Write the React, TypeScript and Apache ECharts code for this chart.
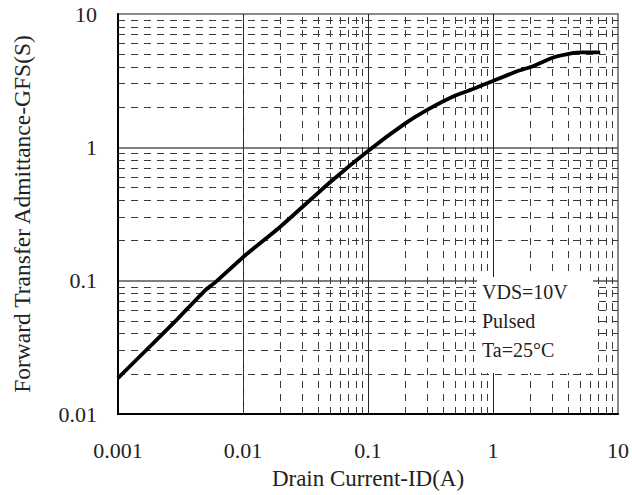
import React, { useEffect, useRef } from "react";
import * as echarts from "echarts";

// Curve: Drain Current ID (A) vs Forward Transfer Admittance GFS (S)
const drainCurrent = [0.001, 0.002, 0.003, 0.005, 0.006, 0.01, 0.02, 0.05, 0.1, 0.2, 0.3, 0.5, 0.7, 1, 1.6, 2, 3, 4.4, 5, 7.2];
const gfs = [0.0186, 0.0354, 0.0517, 0.085, 0.097, 0.15, 0.255, 0.55, 0.94, 1.52, 1.92, 2.45, 2.75, 3.15, 3.75, 4.0, 4.7, 5.1, 5.15, 5.15];

const xTickValues = [0.001, 0.01, 0.1, 1, 10];
const xTickLabels = ["0.001", "0.01", "0.1", "1", "10"];
const yTickValues = [0.01, 0.1, 1, 10];
const yTickLabels = ["0.01", "0.1", "1", "10"];

const minorMultipliers = [2, 3, 4, 5, 6, 7, 8, 9];

const annotationLines = ["VDS=10V", "Pulsed", "Ta=25°C"];

const FONT = "'Liberation Serif', 'DejaVu Serif', serif";

function labelFor(v: number, values: number[], labels: string[]) {
  let best = 0;
  let bestD = Infinity;
  values.forEach((t, i) => {
    const d = Math.abs(Math.log10(v) - Math.log10(t));
    if (d < bestD) {
      bestD = d;
      best = i;
    }
  });
  return bestD < 0.01 ? labels[best] : "";
}

function minorsBetween(ticks: number[]) {
  const out: number[] = [];
  for (let i = 0; i < ticks.length - 1; i++) {
    minorMultipliers.forEach((m) => out.push(ticks[i] * m));
  }
  return out;
}

export default function App() {
  const ref = useRef<HTMLDivElement>(null);

  useEffect(() => {
    if (!ref.current) return;
    const chart = echarts.init(ref.current, null, { renderer: "svg" });

    const xMinor = minorsBetween(xTickValues);
    const yMinor = minorsBetween(yTickValues);

    const minorLineStyle = { color: "#3a3a3a", width: 1, type: [7, 6] as number[] };

    const option: any = {
      animation: false,
      backgroundColor: "#fff",
      grid: {
        left: 118,
        right: 14,
        top: 14,
        bottom: 81,
        show: true,
        borderColor: "#8a8a8a",
        borderWidth: 2,
        backgroundColor: "transparent",
      },
      xAxis: {
        type: "log",
        logBase: 10,
        min: xTickValues[0],
        max: xTickValues[xTickValues.length - 1],
        name: "Drain Current-ID(A)",
        nameLocation: "middle",
        nameGap: 53,
        nameTextStyle: { fontFamily: FONT, fontSize: 23, color: "#222" },
        axisLine: { show: true, lineStyle: { color: "#000", width: 2 } },
        axisTick: { show: false },
        axisLabel: {
          margin: 25,
          fontFamily: FONT,
          fontSize: 22,
          color: "#222",
          formatter: (v: number) => labelFor(v, xTickValues, xTickLabels),
        },
        splitLine: { show: true, showMaxLine: false, showMinLine: false, lineStyle: { color: "#222", width: 1 } },
      },
      yAxis: {
        type: "log",
        logBase: 10,
        min: yTickValues[0],
        max: yTickValues[yTickValues.length - 1],
        name: "Forward Transfer Admittance-GFS(S)",
        nameLocation: "middle",
        nameGap: 84,
        nameTextStyle: { fontFamily: FONT, fontSize: 23.5, color: "#222" },
        axisLine: { show: true, lineStyle: { color: "#000", width: 2 } },
        axisTick: { show: false },
        axisLabel: {
          margin: 21,
          fontFamily: FONT,
          fontSize: 22,
          color: "#222",
          padding: [8, 0, 0, 0],
          formatter: (v: number) => labelFor(v, yTickValues, yTickLabels),
        },
        splitLine: { show: true, showMaxLine: false, showMinLine: false, lineStyle: { color: "#555", width: 1.5 } },
      },
      series: [
        {
          type: "line",
          data: [],
          silent: true,
          z: 1,
          markLine: {
            silent: true,
            symbol: ["none", "none"],
            label: { show: false },
            lineStyle: minorLineStyle,
            emphasis: { disabled: true },
            data: [
              ...xMinor.map((v) => ({ xAxis: v })),
              ...yMinor.map((v) => ({ yAxis: v })),
            ],
          },
        },
        {
          type: "line",
          data: drainCurrent.map((x, i) => [x, gfs[i]]),
          showSymbol: false,
          smooth: 0.15,
          z: 10,
          lineStyle: { color: "#000", width: 3.8 },
        },
      ],
      graphic: [
        {
          type: "group",
          z: 100,
          children: [
            {
              type: "rect",
              shape: { x: 477, y: 277, width: 116, height: 96 },
              style: { fill: "#fff" },
              z: 100,
            },
            ...annotationLines.map((t, i) => ({
              type: "text",
              x: 482,
              y: 292 + i * 29,
              z: 101,
              style: {
                text: t,
                fontFamily: FONT,
                fontSize: 20,
                fill: "#222",
                verticalAlign: "middle",
                align: "left",
              },
            })),
          ],
        },
      ],
    };

    chart.setOption(option);
    return () => chart.dispose();
  }, []);

  return (
    <div
      ref={ref}
      style={{ position: "fixed", left: 0, top: 0, width: 632, height: 495 }}
    />
  );
}
